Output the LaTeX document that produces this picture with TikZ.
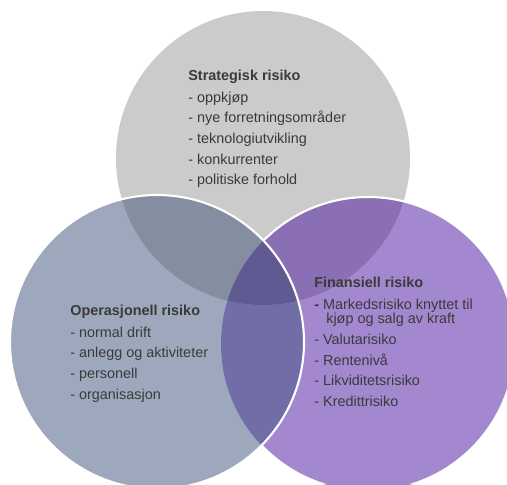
\documentclass[tikz,border=0pt]{standalone}
\usepackage{fontspec}
\setmainfont{Liberation Sans}

\definecolor{stratgray}{HTML}{CBCBCB}
\definecolor{opblue}{HTML}{9EA8BD}
\definecolor{finpurple}{HTML}{A488CF}
\definecolor{stratop}{HTML}{858DA0}
\definecolor{stratfin}{HTML}{8B6FB5}
\definecolor{opfin}{HTML}{716DA6}
\definecolor{allthree}{HTML}{5F5A91}
\definecolor{risktext}{HTML}{3A3A3A}

\begin{document}
\begin{tikzpicture}[x=0.02cm, y=-0.02cm,
    every node/.style={font=\fontsize{8.2}{11.7}\selectfont, text=risktext, align=left, anchor=north west, inner sep=0pt},
    rim/.style={draw=white, line width=1.2pt}]
    \useasboundingbox (0,0) rectangle (507,484);
    \clip (0,0) rectangle (507,484);

    % 三个圆心
    \coordinate (S) at (263,158);
    \coordinate (O) at (157,342);
    \coordinate (F) at (368,344);
    \def\vennr{147}

    % 圆
    \fill[stratgray] (S) circle (\vennr);
    \fill[finpurple] (F) circle (\vennr);
    \fill[opblue] (O) circle (\vennr);

    % 交集
    \begin{scope}
        \clip (O) circle (\vennr);
        \fill[opfin] (F) circle (\vennr);
    \end{scope}
    \begin{scope}
        \clip (S) circle (\vennr);
        \fill[stratop] (O) circle (\vennr);
        \fill[stratfin] (F) circle (\vennr);
        \clip (O) circle (\vennr);
        \fill[allthree] (F) circle (\vennr);
    \end{scope}

    % 白边
    \begin{scope}[even odd rule]
        \clip (0,0) rectangle (507,484) (O) circle (\vennr);
        \draw[rim] (F) circle (\vennr);
    \end{scope}
    \draw[rim] (O) circle (\vennr);

    % 文字
    \node (strat) at (188,70) {\textbf{Strategisk risiko}\\[0.6pt]
        - oppkjøp\\ - nye forretningsområder\\ - teknologiutvikling\\
        - konkurrenter\\ - politiske forhold};
    \node (oper) at (70,305) {\textbf{Operasjonell risiko}\\[0.6pt]
        - normal drift\\ - anlegg og aktiviteter\\ - personell\\ - organisasjon};
    \node (fin) at (314,277) {\textbf{Finansiell risiko}\\[0.6pt]
        \textbf{-} Markedsrisiko knyttet til\\[-3.4pt]
        \hspace*{6.8pt}kjøp og salg av kraft\\ - Valutarisiko\\ - Rentenivå\\
        - Likviditetsrisiko\\ - Kredittrisiko};
\end{tikzpicture}
\end{document}
